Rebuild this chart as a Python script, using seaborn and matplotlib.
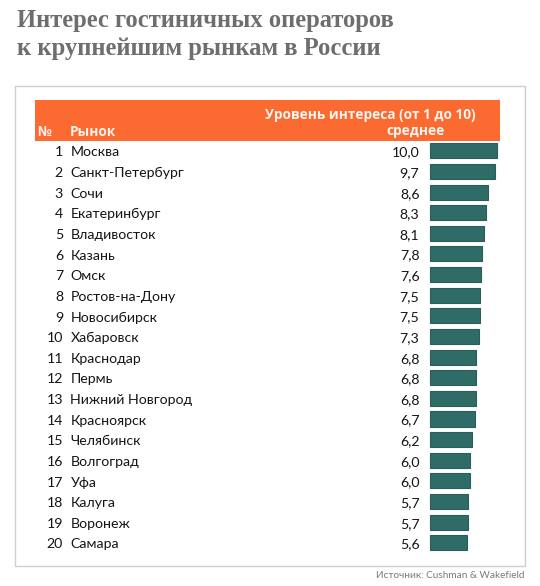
import matplotlib
matplotlib.use("Agg")
import matplotlib.pyplot as plt
import matplotlib.transforms as mtransforms
from matplotlib.patches import Rectangle
import seaborn as sns
import pandas as pd

ranks = list(range(1, 21))
markets = ["Москва", "Санкт-Петербург", "Сочи", "Екатеринбург", "Владивосток",
           "Казань", "Омск", "Ростов-на-Дону", "Новосибирск", "Хабаровск",
           "Краснодар", "Пермь", "Нижний Новгород", "Красноярск", "Челябинск",
           "Волгоград", "Уфа", "Калуга", "Воронеж", "Самара"]
scores = [10.0, 9.7, 8.6, 8.3, 8.1, 7.8, 7.6, 7.5, 7.5, 7.3,
          6.8, 6.8, 6.8, 6.7, 6.2, 6.0, 6.0, 5.7, 5.7, 5.6]

title_lines = ["Интерес гостиничных операторов", "к крупнейшим рынкам в России"]
header_top = "Уровень интереса (от 1 до 10)"
header_avg = "среднее"
header_no = "№"
header_market = "Рынок"
source = "Источник: Cushman & Wakefield"

df = pd.DataFrame({"rank": ranks, "market": markets, "score": scores})

sns.set_theme(style="white")
plt.rcParams['font.family'] = ['Lato', 'DejaVu Sans']

W, H = 540, 586
fig = plt.figure(figsize=(W / 100, H / 100), dpi=100)
fig.patch.set_facecolor("white")

def fx(px):
    return px / W

def fy(py):
    return 1 - py / H

# axes for bars
top_px, bot_px = 140.5, 553.1
left_px, right_px = 429.5, 497.3
ax = fig.add_axes([fx(left_px), fy(bot_px), fx(right_px - left_px), (bot_px - top_px) / H])
sns.barplot(data=df, x="score", y="market", orient="h", color="#2f6b67",
            width=0.73, edgecolor="#2a5e5b", linewidth=0.8, saturation=1, ax=ax)
ax.set_xlim(0, 10)
ax.set_ylim(19.5, -0.5)
ax.axis("off")
for p in ax.patches:
    p.set_clip_on(False)

# frame & header
fig.add_artist(Rectangle((fx(14.5), fy(566)), fx(525 - 14.5), (566 - 85.5) / H,
                         transform=fig.transFigure, fill=False,
                         edgecolor="#cfcfcf", linewidth=1.0, zorder=0))
fig.add_artist(Rectangle((fx(34.5), fy(140.7)), fx(499.7 - 34.5), (140.7 - 100.3) / H,
                         transform=fig.transFigure, facecolor="#fa6a31",
                         edgecolor="none", zorder=0))

hdr = dict(color="#fff4ee", fontsize=9.8, fontweight="bold", va="center",
           family=["Open Sans", "DejaVu Sans"])
fig.text(fx(475.5), fy(114.5), header_top, ha="right", **hdr)
fig.text(fx(415.5), fy(131.5), header_avg, ha="center", **hdr)
fig.text(fx(37), fy(131.5), header_no, ha="left", **hdr)
fig.text(fx(69.5), fy(131.5), header_market, ha="left", **hdr)

# row labels
tr = mtransforms.blended_transform_factory(fig.transFigure, ax.transData)
for i, (r, m, s) in enumerate(zip(ranks, markets, scores)):
    y = i + 0.08
    kw = dict(transform=tr, va="center", fontsize=10.2, color="#151515")
    ax.text(fx(63), y, str(r), ha="right", **kw)
    ax.text(fx(70.5), y, m, ha="left", **kw)
    ax.text(fx(419.5), y, f"{s:.1f}".replace(".", ","), ha="right", **kw)

# title
for line, base in zip(title_lines, [27, 55]):
    fig.text(fx(17), fy(base), line, ha="left", va="baseline",
             family=["Liberation Serif", "DejaVu Serif"], fontweight="bold",
             fontsize=17.7, color="#6e6e6e")

fig.text(fx(525), fy(576), source, ha="right", va="center",
         fontsize=7.2, color="#7a7a7a")

fig.savefig("out.png", dpi=100, facecolor="white")
